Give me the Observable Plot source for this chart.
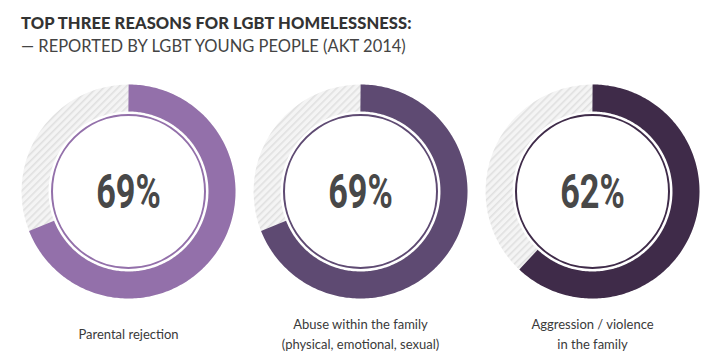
<!DOCTYPE html>
<html>
<head>
<meta charset="utf-8">
<script src="https://cdn.jsdelivr.net/npm/d3@7"></script>
<script src="https://cdn.jsdelivr.net/npm/@observablehq/plot@0.6"></script>
<style>
  html, body { margin: 0; padding: 0; background: #fff; }
  #wrap { width: 720px; height: 364px; position: relative; overflow: hidden; font-family: "Lato", "Open Sans", sans-serif; }
  #title { position: absolute; left: 21px; top: 13px; font-size: 16.5px; font-weight: 900; color: #333; letter-spacing: 0.1px; white-space: nowrap; }
  #subtitle { position: absolute; left: 21px; top: 36px; font-size: 16.5px; font-weight: 400; color: #444; white-space: nowrap; }
  #chart { position: absolute; left: 0; top: 62px; }
</style>
</head>
<body>
<div id="wrap">
  <div id="title">TOP THREE REASONS FOR LGBT HOMELESSNESS:</div>
  <div id="subtitle">— REPORTED BY LGBT YOUNG PEOPLE (AKT 2014)</div>
  <div id="chart"></div>
</div>
<script>
const categories = ["Parental rejection", "Abuse within the family\n(physical, emotional, sexual)", "Aggression / violence\nin the family"];
const values = [69, 69, 62];
const colors = ["#9370aa", "#5e4a72", "#3f2b49"];

const UNIT = 232;            // px per donut slot
const H = 302;
const CY = 129;              // donut centre within svg
const ringR = 93.5, ringW = 27, innerR = 76.5;

const donuts = values.map((v, i) => ({i, value: v, label: v + "%", category: categories[i], color: colors[i]}));

const arcPts = [];
donuts.forEach(d => {
  const n = 240;
  const rr = ringR / UNIT;
  for (let k = 0; k <= n; k++) {
    const t = (d.value / 100) * (k / n) * 2 * Math.PI;
    arcPts.push({i: d.i, color: d.color, x: d.i + rr * Math.sin(t), y: -rr * Math.cos(t)});
  }
});

const plot = Plot.plot({
  width: 720, height: H,
  marginLeft: 12, marginRight: 12, marginTop: 0, marginBottom: 0,
  x: {domain: [-0.5, 2.5], axis: null},
  y: {domain: [-CY / UNIT, (H - CY) / UNIT], range: [0, H], axis: null},
  style: {background: "white", overflow: "visible"},
  marks: [
    Plot.dot(donuts, {x: "i", y: () => 0, r: ringR, fill: "none", stroke: "url(#hatch)", strokeWidth: ringW}),
    Plot.line(arcPts, {x: "x", y: "y", z: "i", stroke: "color", strokeWidth: ringW, strokeLinecap: "butt", strokeLinejoin: "round", curve: "linear"}),
    Plot.dot(donuts, {x: "i", y: () => 0, r: innerR, fill: "white", stroke: "color", strokeWidth: 2}),
    Plot.text(donuts, {x: "i", y: () => 0, text: "label", fontSize: 49, fontWeight: 700, fontFamily: "Roboto", fill: "#484848", dy: 1}),
    Plot.text(donuts, {x: "i", y: () => 0, text: "category", dy: 141, fontSize: 13, fontFamily: "Lato", fill: "#3a3a3a", lineHeight: 1.55})
  ]
});

const svg = d3.select(plot);
const defs = svg.insert("defs", ":first-child");
const pat = defs.append("pattern").attr("id", "hatch").attr("patternUnits", "userSpaceOnUse")
  .attr("width", 5).attr("height", 5).attr("patternTransform", "rotate(45)");
pat.append("rect").attr("width", 5).attr("height", 5).attr("fill", "#f4f4f4");
pat.append("line").attr("x1", 0.8).attr("y1", 0).attr("x2", 0.8).attr("y2", 5).attr("stroke", "#e0e0e0").attr("stroke-width", 1.6);

// condense the percentage labels (first text mark)
const textGroups = svg.selectAll('g[aria-label="text"]').nodes();
if (textGroups.length) {
  d3.select(textGroups[0]).selectAll("text").each(function() {
    const el = d3.select(this);
    const tr = el.attr("transform");
    if (tr) {
      el.attr("transform", tr + " scale(0.7,1)");
    } else {
      const x = +el.attr("x") || 0, y = +el.attr("y") || 0;
      el.attr("x", null).attr("y", null).attr("transform", `translate(${x},${y}) scale(0.7,1)`);
    }
  });
}

document.getElementById("chart").appendChild(plot);
</script>
</body>
</html>
